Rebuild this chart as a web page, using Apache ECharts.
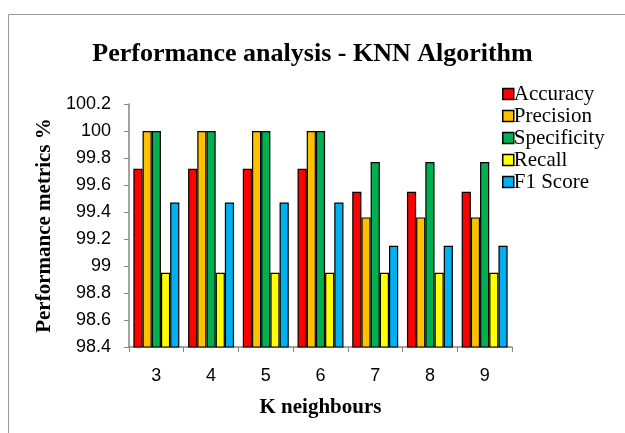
<!DOCTYPE html>
<html><head><meta charset="utf-8">
<script src="https://cdn.jsdelivr.net/npm/echarts@6/dist/echarts.min.js"></script>
<style>html,body{margin:0;padding:0;background:#fff}#c{width:625px;height:433px}</style>
</head><body><div id="c"></div>
<script>
const categories = ['3','4','5','6','7','8','9'];
const accuracy    = [99.72,99.72,99.72,99.72,99.55,99.55,99.55];
const precision   = [100,100,100,100,99.36,99.36,99.36];
const specificity = [100,100,100,100,99.77,99.77,99.77];
const recall      = [98.95,98.95,98.95,98.95,98.95,98.95,98.95];
const f1score     = [99.47,99.47,99.47,99.47,99.15,99.15,99.15];
const yTickLabels = ['98.4','98.6','98.8','99','99.2','99.4','99.6','99.8','100','100.2'];

const names = ['Accuracy','Precision','Specificity','Recall','F1 Score'];
const colors = ['#FF0000','#FFC000','#00B050','#FFFF00','#00B0F0'];
const dataSets = [accuracy, precision, specificity, recall, f1score];

const chart = echarts.init(document.getElementById('c'));
const serif = '"Liberation Serif","Times New Roman",serif';
const sans = '"Liberation Sans",Arial,sans-serif';
chart.setOption({
  animation:false,
  color: colors,
  title:{text:'Performance analysis - KNN Algorithm', left:'center', top:36,
    textStyle:{fontFamily:serif, fontWeight:'bold', fontSize:26, color:'#000'}},
  legend:{orient:'vertical', left:502, top:83, itemGap:0, itemWidth:11, itemHeight:11,
    icon:'rect', data:names, padding:0,
    itemStyle:{borderColor:'#000', borderWidth:1.5},
    textStyle:{fontFamily:serif, fontSize:21, lineHeight:22, color:'#000', padding:[0,0,0,-5]}},
  grid:{left:129, top:104, right:113, bottom:86},
  xAxis:{type:'category', data:categories,
    name:'K neighbours', nameLocation:'middle', nameGap:50,
    nameTextStyle:{fontFamily:serif, fontWeight:'bold', fontSize:21, color:'#000'},
    axisLine:{lineStyle:{color:'#868686', width:1.5}},
    axisTick:{show:true, length:5, lineStyle:{color:'#868686'}},
    axisLabel:{fontFamily:sans, fontSize:18, color:'#000', margin:20}},
  yAxis:{type:'value', min:98.4, max:100.2, interval:0.2,
    name:'Performance metrics %', nameLocation:'middle', nameGap:74, nameRotate:90,
    nameTextStyle:{fontFamily:serif, fontWeight:'bold', fontSize:21, color:'#000'},
    axisLine:{show:true, lineStyle:{color:'#868686', width:1.5}},
    axisTick:{show:true, length:5, lineStyle:{color:'#868686'}},
    splitLine:{show:false},
    axisLabel:{fontFamily:sans, fontSize:18, color:'#000', margin:18,
      formatter:(v)=>{const i=Math.round((v-98.4)/0.2); return yTickLabels[i]!==undefined?yTickLabels[i]:'';}}},
  graphic:[{type:'rect', shape:{x:8.5,y:14.5,width:700,height:500}, style:{fill:'none', stroke:'#999', lineWidth:1}, z:-1}],
  series: dataSets.map((d,i)=>({
    name:names[i], type:'bar', data:d, barGap:'0%', barCategoryGap:'16%',
    itemStyle:{color:colors[i], borderColor:'#000', borderWidth:1.2}
  }))
});
</script></body></html>
